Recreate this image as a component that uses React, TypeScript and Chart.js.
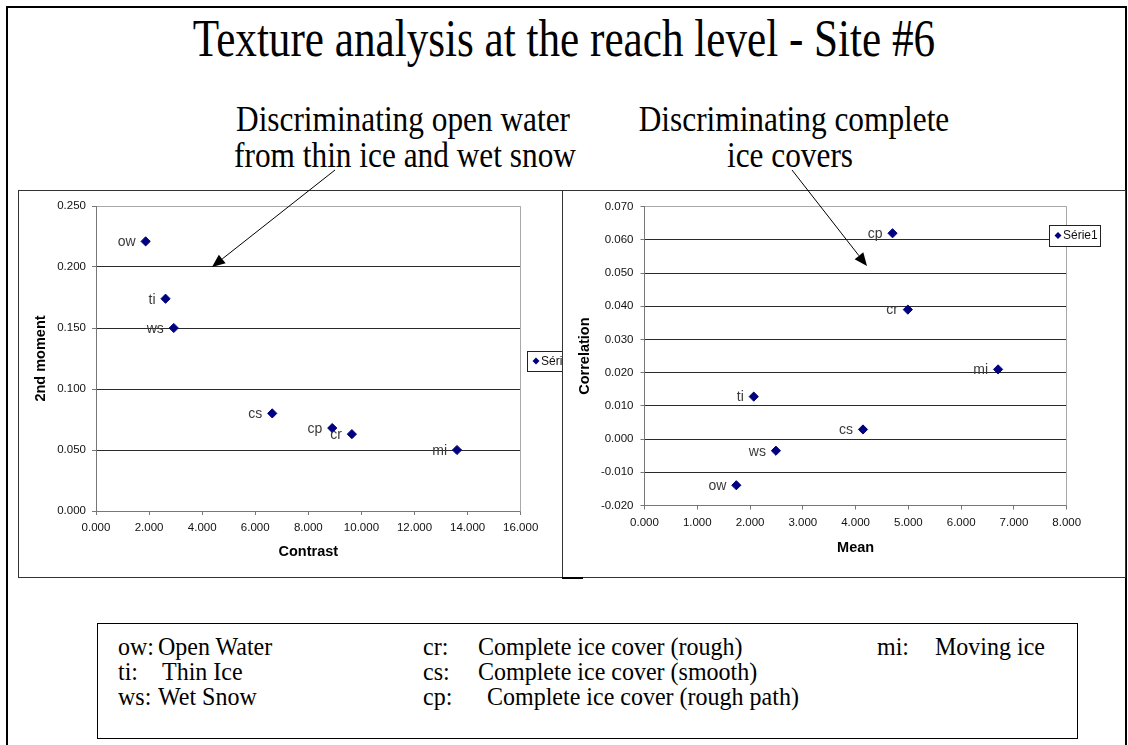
import React, { useEffect, useRef } from 'react';
import { Chart, registerables } from 'chart.js';

Chart.register(...registerables);

// ---------------- data ----------------
const seriesName = 'Série1';

const leftCodes = ['ow', 'ti', 'ws', 'cs', 'cp', 'cr', 'mi'];
const contrastValues = [1.87, 2.62, 2.93, 6.64, 8.9, 9.64, 13.6];
const secondMomentValues = [0.221, 0.174, 0.15, 0.08, 0.068, 0.063, 0.05];

const rightCodes = ['ow', 'ti', 'ws', 'cs', 'cp', 'cr', 'mi'];
const meanValues = [1.74, 2.07, 2.49, 4.14, 4.7, 4.99, 6.7];
const correlationValues = [-0.0139, 0.0128, -0.0035, 0.0029, 0.062, 0.039, 0.021];

const pageTitle = 'Texture analysis at the reach level - Site #6';
const leftNote = ['Discriminating open water', 'from thin ice and wet snow'];
const rightNote = ['Discriminating complete', 'ice covers'];

const keyCodes = ['ow:', 'ti:', 'ws:', 'cr:', 'cs:', 'cp:', 'mi:'];
const keyNames = [
  'Open Water',
  'Thin Ice',
  'Wet Snow',
  'Complete ice cover (rough)',
  'Complete ice cover (smooth)',
  'Complete ice cover (rough path)',
  'Moving ice',
];

// ---------------- styles ----------------
const SANS = '"Liberation Sans", Arial, sans-serif';
const SERIF = '"Liberation Serif", "Times New Roman", serif';
const NAVY = '#000080';
const GRID = '#2a2a2a';
const AXIS = '#777777';
const FRAME = '#a8a8a8';

const fmt3 = (v: number | string) => Number(v).toFixed(3);
const near = (a: number, b: number) => Math.abs(a - b) < 1e-9;
const align = (p: number) => Math.round(p - 0.5) + 0.5;

const codesPlugin = (labels: string[]) => ({
  id: 'pointCodes',
  afterDatasetsDraw(chart: any) {
    const ctx = chart.ctx;
    const meta = chart.getDatasetMeta(0);
    ctx.save();
    ctx.font = `14px ${SANS}`;
    ctx.fillStyle = '#3a3a3a';
    ctx.textAlign = 'right';
    ctx.textBaseline = 'middle';
    meta.data.forEach((el: any, i: number) => {
      ctx.fillText(labels[i], el.x - 10, el.y + 1);
    });
    ctx.restore();
  },
});

const framePlugin = {
  id: 'plotFrame',
  beforeDatasetsDraw(chart: any) {
    const { ctx, chartArea: a } = chart;
    ctx.save();
    ctx.strokeStyle = FRAME;
    ctx.lineWidth = 1;
    ctx.beginPath();
    const r = align(a.right);
    ctx.moveTo(r, align(a.top));
    ctx.lineTo(r, align(a.bottom));
    ctx.stroke();
    ctx.restore();
  },
};

const legendPlugin = (box: { x: number; cy: number; w: number; h: number }) => ({
  id: 'seriesBox',
  afterDraw(chart: any) {
    const ctx = chart.ctx;
    const ds = chart.data.datasets[0];
    ctx.save();
    ctx.fillStyle = '#ffffff';
    ctx.fillRect(box.x, box.cy - box.h / 2, box.w, box.h);
    ctx.strokeStyle = '#222';
    ctx.lineWidth = 1;
    ctx.strokeRect(align(box.x), align(box.cy - box.h / 2), box.w, box.h);
    const dx = box.x + 9;
    const r = 3.5;
    ctx.fillStyle = ds.backgroundColor;
    ctx.beginPath();
    ctx.moveTo(dx - r, box.cy);
    ctx.lineTo(dx, box.cy - r);
    ctx.lineTo(dx + r, box.cy);
    ctx.lineTo(dx, box.cy + r);
    ctx.closePath();
    ctx.fill();
    ctx.fillStyle = '#111';
    ctx.font = `12px ${SANS}`;
    ctx.textAlign = 'left';
    ctx.textBaseline = 'middle';
    ctx.fillText(ds.label, box.x + 14, box.cy + 0.5);
    ctx.restore();
  },
});

type Spec = {
  xs: number[];
  ys: number[];
  codes: string[];
  xMin: number;
  xMax: number;
  xStep: number;
  yMin: number;
  yMax: number;
  yStep: number;
  xTitle: string;
  yTitle: string;
  yAxisWidth: number;
  xAxisHeight: number;
  padTop: number;
  padRight: number;
  xTitlePadBottom: number;
  yTitlePadTop: number;
  yTickPad: number;
  legend: { x: number; cy: number; w: number; h: number };
};

function makeChart(canvas: HTMLCanvasElement, s: Spec) {
  const titleFont = { family: SANS, size: 14.5, weight: 'bold' as const };
  const tickFont = { family: SANS, size: 11.5 };
  return new Chart(canvas, {
    type: 'scatter',
    data: {
      datasets: [
        {
          label: seriesName,
          data: s.xs.map((x, i) => ({ x, y: s.ys[i] })),
          pointStyle: 'rectRot',
          pointRadius: 4.6,
          pointHoverRadius: 4.6,
          backgroundColor: NAVY,
          borderColor: NAVY,
          borderWidth: 1,
        },
      ],
    },
    options: {
      animation: false,
      responsive: false,
      devicePixelRatio: 1,
      events: [],
      layout: { padding: { top: s.padTop, right: s.padRight, left: 0, bottom: 0 } },
      plugins: { legend: { display: false }, tooltip: { enabled: false } },
      scales: {
        x: {
          type: 'linear',
          min: s.xMin,
          max: s.xMax,
          ticks: {
            stepSize: s.xStep,
            callback: (v: any) => fmt3(v),
            font: tickFont,
            color: '#111',
            padding: 6,
            maxRotation: 0,
            autoSkip: false,
          },
          grid: { drawOnChartArea: false, drawTicks: true, tickLength: 4, tickColor: AXIS, color: AXIS },
          border: { display: true, color: AXIS, width: 1 },
          title: {
            display: true,
            text: s.xTitle,
            font: titleFont,
            color: '#000',
            padding: { top: 0, bottom: s.xTitlePadBottom },
          },
          afterFit: (sc: any) => {
            sc.height = s.xAxisHeight;
            sc.paddingLeft = 0;
            sc.paddingRight = 0;
          },
        },
        y: {
          type: 'linear',
          min: s.yMin,
          max: s.yMax,
          ticks: {
            stepSize: s.yStep,
            callback: (v: any) => fmt3(v),
            font: tickFont,
            color: '#111',
            padding: s.yTickPad,
            autoSkip: false,
          },
          grid: {
            color: (c: any) =>
              c.tick && near(c.tick.value, s.yMax) ? FRAME : c.tick && near(c.tick.value, s.yMin) ? AXIS : GRID,
            tickColor: AXIS,
            tickLength: 4,
            drawTicks: true,
          },
          border: { display: true, color: AXIS, width: 1 },
          title: {
            display: true,
            text: s.yTitle,
            font: titleFont,
            color: '#000',
            padding: { top: s.yTitlePadTop, bottom: 0 },
          },
          afterFit: (sc: any) => {
            sc.width = s.yAxisWidth;
            sc.paddingTop = 0;
            sc.paddingBottom = 0;
          },
        },
      },
    } as any,
    plugins: [framePlugin, codesPlugin(s.codes), legendPlugin(s.legend)],
  });
}

// ---------------- page layout ----------------
function Line(props: {
  text: string;
  x: number;
  baseline: number;
  size: number;
  sx?: number;
  center?: boolean;
}) {
  const { text, x, baseline, size, sx = 1, center = false } = props;
  return (
    <div
      style={{
        position: 'absolute',
        left: x,
        top: baseline - 0.8375 * size,
        fontFamily: SERIF,
        fontSize: size,
        lineHeight: `${size}px`,
        whiteSpace: 'nowrap',
        color: '#000',
        transform: center ? `translateX(-50%) scaleX(${sx})` : `scaleX(${sx})`,
        transformOrigin: center ? 'center' : 'left',
      }}
    >
      {text}
    </div>
  );
}

function Arrow(props: { x1: number; y1: number; x2: number; y2: number }) {
  const { x1, y1, x2, y2 } = props;
  const ang = Math.atan2(y2 - y1, x2 - x1);
  const L = 13;
  const hw = 5.5;
  const bx = x2 - L * Math.cos(ang);
  const by = y2 - L * Math.sin(ang);
  const px = -Math.sin(ang) * hw;
  const py = Math.cos(ang) * hw;
  return (
    <g>
      <line x1={x1} y1={y1} x2={bx} y2={by} stroke="#000" strokeWidth={1} />
      <polygon points={`${x2},${y2} ${bx + px},${by + py} ${bx - px},${by - py}`} fill="#000" />
    </g>
  );
}

export default function App() {
  const leftRef = useRef<HTMLCanvasElement>(null);
  const rightRef = useRef<HTMLCanvasElement>(null);

  useEffect(() => {
    const charts: Chart[] = [];
    if (leftRef.current) {
      charts.push(
        makeChart(leftRef.current, {
          xs: contrastValues,
          ys: secondMomentValues,
          codes: leftCodes,
          xMin: 0,
          xMax: 16,
          xStep: 2,
          yMin: 0,
          yMax: 0.25,
          yStep: 0.05,
          xTitle: 'Contrast',
          yTitle: '2nd moment',
          yAxisWidth: 77,
          xAxisHeight: 66,
          padTop: 15,
          padRight: 41.3,
          xTitlePadBottom: 16.3,
          yTitlePadTop: 13.3,
          yTickPad: 6,
          legend: { x: 508, cy: 170, w: 51, h: 20 },
        })
      );
    }
    if (rightRef.current) {
      charts.push(
        makeChart(rightRef.current, {
          xs: meanValues,
          ys: correlationValues,
          codes: rightCodes,
          xMin: 0,
          xMax: 8,
          xStep: 1,
          yMin: -0.02,
          yMax: 0.07,
          yStep: 0.01,
          xTitle: 'Mean',
          yTitle: 'Correlation',
          yAxisWidth: 81.5,
          xAxisHeight: 71.5,
          padTop: 15.7,
          padRight: 58.3,
          xTitlePadBottom: 20.3,
          yTitlePadTop: 13.3,
          yTickPad: 7,
          legend: { x: 486, cy: 44.5, w: 51, h: 21 },
        })
      );
    }
    return () => charts.forEach((c) => c.destroy());
  }, []);

  const keyCodeX = [118, 118, 118, 423, 423, 423, 877];
  const keyNameX = [158, 162, 158, 478, 478, 487, 935];
  const keyBase = [655, 680, 705, 655, 680, 705, 655];

  return (
    <div
      style={{
        position: 'absolute',
        left: 0,
        top: 0,
        width: 1128,
        height: 745,
        background: '#fff',
        overflow: 'hidden',
      }}
    >
      <Line text={pageTitle} x={564} baseline={57} size={52} sx={0.83} center />
      <Line text={leftNote[0]} x={403} baseline={131} size={36} sx={0.87} center />
      <Line text={leftNote[1]} x={405} baseline={167} size={36} sx={0.87} center />
      <Line text={rightNote[0]} x={794} baseline={131} size={36} sx={0.87} center />
      <Line text={rightNote[1]} x={790} baseline={167} size={36} sx={0.87} center />

      <canvas
        ref={leftRef}
        width={543}
        height={386}
        style={{ position: 'absolute', left: 19, top: 191, width: 543, height: 386 }}
      />
      <canvas
        ref={rightRef}
        width={562}
        height={386}
        style={{ position: 'absolute', left: 563, top: 191, width: 562, height: 386 }}
      />

      {keyCodes.map((c, i) => (
        <React.Fragment key={c}>
          <Line text={c} x={keyCodeX[i]} baseline={keyBase[i]} size={25} sx={0.96} />
          <Line text={keyNames[i]} x={keyNameX[i]} baseline={keyBase[i]} size={25} sx={0.96} />
        </React.Fragment>
      ))}

      <svg
        width={1128}
        height={745}
        style={{ position: 'absolute', left: 0, top: 0, pointerEvents: 'none' }}
      >
        {/* slide frame */}
        <rect x={6} y={6} width={2} height={745} fill="#000" />
        <rect x={6} y={6} width={1121} height={2} fill="#000" />
        <rect x={1125} y={6} width={2} height={745} fill="#000" />
        {/* chart boxes */}
        <rect x={18.5} y={190.5} width={544} height={387} fill="none" stroke="#333" strokeWidth={1} />
        <rect x={562.5} y={190.5} width={563} height={387} fill="none" stroke="#333" strokeWidth={1} />
        <rect x={562} y={577} width={21} height={2} fill="#000" />
        {/* key box */}
        <rect x={97.5} y={623.5} width={980} height={115} fill="none" stroke="#000" strokeWidth={1} />
        {/* arrows */}
        <Arrow x1={335} y1={170} x2={212} y2={267} />
        <Arrow x1={792} y1={170} x2={867} y2={266} />
      </svg>
    </div>
  );
}
